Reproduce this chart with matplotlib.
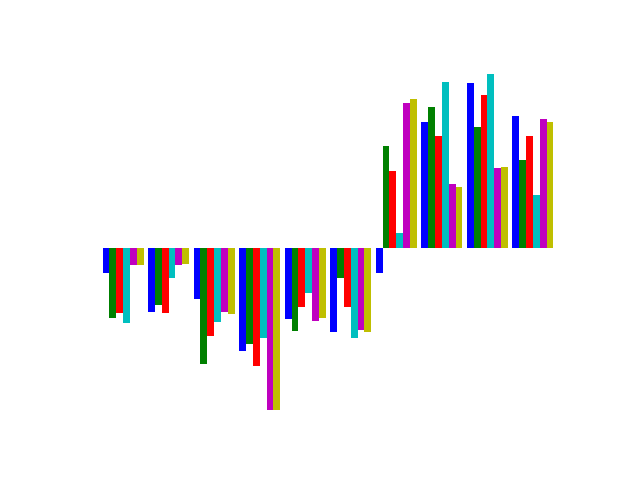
import matplotlib

matplotlib.use("Agg")
import matplotlib.pyplot as plt
import numpy as np

colors = ["b", "g", "r", "c", "m", "y"]
blue = [-0.25, -0.64, -0.51, -1.03, -0.71, -0.84, -0.25, 1.26, 1.65, 1.32]
green = [-0.70, -0.57, -1.16, -0.96, -0.83, -0.30, 1.02, 1.41, 1.21, 0.88]
red = [-0.65, -0.65, -0.88, -1.18, -0.59, -0.59, 0.77, 1.12, 1.53, 1.12]
cyan = [-0.75, -0.30, -0.74, -0.90, -0.45, -0.90, 0.15, 1.66, 1.74, 0.53]
magenta = [-0.17, -0.17, -0.64, -1.62, -0.73, -0.82, 1.45, 0.64, 0.80, 1.29]
yellow = [-0.17, -0.16, -0.66, -1.62, -0.70, -0.84, 1.49, 0.61, 0.81, 1.26]
series = [blue, green, red, cyan, magenta, yellow]

x = np.arange(len(blue))
width = 0.15

fig, ax = plt.subplots(figsize=(6.4, 4.8), dpi=100)
for i, (vals, col) in enumerate(zip(series, colors)):
    ax.bar(x + i * width, vals, width, color=col)
ax.axis("off")
fig.savefig("out.png")
